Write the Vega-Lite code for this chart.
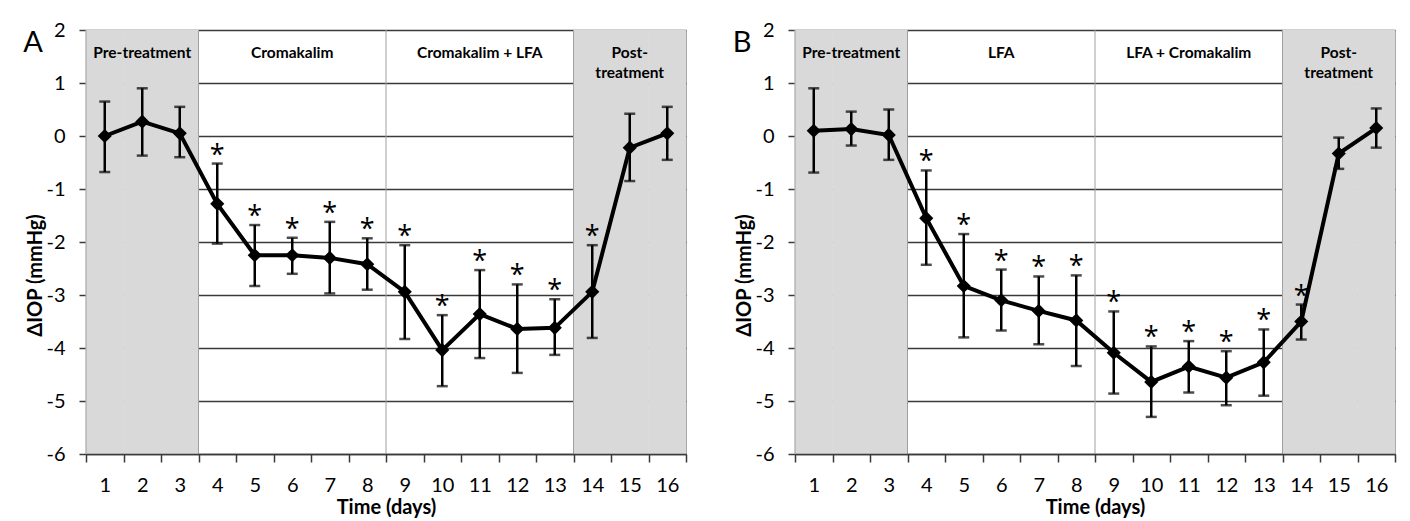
{
  "$schema": "https://vega.github.io/schema/vega-lite/v6.json",
  "padding": {"top": 19, "left": 22, "right": 5, "bottom": 5},
  "config": {
    "font": "Lato",
    "view": {"stroke": "#999999", "strokeWidth": 1},
    "axisY": {
      "grid": true, "gridColor": "#3a3a3a", "gridWidth": 1.5, "gridOpacity": 1,
      "domainColor": "#999999", "tickColor": "#3a3a3a", "tickWidth": 1.5, "tickSize": 7,
      "tickCount": 8, "labelFontSize": 20, "labelPadding": 14, "labelColor": "#000000",
      "labelExpr": "replace(datum.label, '\u2212', '-')",
      "titleFontSize": 20, "titleFontWeight": "bold", "titleColor": "#000000", "titlePadding": 0,
      "titleY": 245, "zindex": 1
    },
    "axisX": {
      "grid": false, "tickBand": "extent", "labelAngle": 0,
      "domainColor": "#3a3a3a", "domainWidth": 1.5, "tickColor": "#3a3a3a", "tickWidth": 1.5, "tickSize": 8,
      "labelFontSize": 20, "labelPadding": 13, "labelColor": "#000000",
      "titleFontSize": 20, "titleFontWeight": "bold", "titleColor": "#000000", "titlePadding": 2
    }
  },
  "datasets": {
    "a": [
      {"day": 1, "mean": 0.0, "lower": -0.68, "upper": 0.65, "sig": false, "phase": "pre"},
      {"day": 2, "mean": 0.27, "lower": -0.37, "upper": 0.9, "sig": false, "phase": "pre"},
      {"day": 3, "mean": 0.05, "lower": -0.4, "upper": 0.55, "sig": false, "phase": "pre"},
      {"day": 4, "mean": -1.28, "lower": -2.03, "upper": -0.52, "sig": true, "phase": "treat"},
      {"day": 5, "mean": -2.25, "lower": -2.83, "upper": -1.68, "sig": true, "phase": "treat"},
      {"day": 6, "mean": -2.25, "lower": -2.6, "upper": -1.92, "sig": true, "phase": "treat"},
      {"day": 7, "mean": -2.3, "lower": -2.97, "upper": -1.62, "sig": true, "phase": "treat"},
      {"day": 8, "mean": -2.42, "lower": -2.9, "upper": -1.93, "sig": true, "phase": "treat"},
      {"day": 9, "mean": -2.94, "lower": -3.83, "upper": -2.06, "sig": true, "phase": "treat"},
      {"day": 10, "mean": -4.04, "lower": -4.72, "upper": -3.38, "sig": true, "phase": "treat"},
      {"day": 11, "mean": -3.36, "lower": -4.19, "upper": -2.53, "sig": true, "phase": "treat"},
      {"day": 12, "mean": -3.64, "lower": -4.47, "upper": -2.8, "sig": true, "phase": "treat"},
      {"day": 13, "mean": -3.62, "lower": -4.13, "upper": -3.08, "sig": true, "phase": "treat"},
      {"day": 14, "mean": -2.94, "lower": -3.81, "upper": -2.06, "sig": true, "phase": "post"},
      {"day": 15, "mean": -0.22, "lower": -0.85, "upper": 0.42, "sig": false, "phase": "post"},
      {"day": 16, "mean": 0.05, "lower": -0.45, "upper": 0.55, "sig": false, "phase": "post"}
    ],
    "b": [
      {"day": 1, "mean": 0.1, "lower": -0.69, "upper": 0.9, "sig": false, "phase": "pre"},
      {"day": 2, "mean": 0.13, "lower": -0.18, "upper": 0.46, "sig": false, "phase": "pre"},
      {"day": 3, "mean": 0.02, "lower": -0.45, "upper": 0.5, "sig": false, "phase": "pre"},
      {"day": 4, "mean": -1.55, "lower": -2.43, "upper": -0.65, "sig": true, "phase": "treat"},
      {"day": 5, "mean": -2.83, "lower": -3.8, "upper": -1.85, "sig": true, "phase": "treat"},
      {"day": 6, "mean": -3.1, "lower": -3.67, "upper": -2.52, "sig": true, "phase": "treat"},
      {"day": 7, "mean": -3.3, "lower": -3.93, "upper": -2.65, "sig": true, "phase": "treat"},
      {"day": 8, "mean": -3.48, "lower": -4.34, "upper": -2.63, "sig": true, "phase": "treat"},
      {"day": 9, "mean": -4.09, "lower": -4.86, "upper": -3.31, "sig": true, "phase": "treat"},
      {"day": 10, "mean": -4.64, "lower": -5.3, "upper": -3.97, "sig": true, "phase": "treat"},
      {"day": 11, "mean": -4.35, "lower": -4.84, "upper": -3.87, "sig": true, "phase": "treat"},
      {"day": 12, "mean": -4.56, "lower": -5.08, "upper": -4.06, "sig": true, "phase": "treat"},
      {"day": 13, "mean": -4.27, "lower": -4.9, "upper": -3.65, "sig": true, "phase": "treat"},
      {"day": 14, "mean": -3.5, "lower": -3.84, "upper": -3.18, "sig": true, "phase": "post"},
      {"day": 15, "mean": -0.33, "lower": -0.62, "upper": -0.03, "sig": false, "phase": "post"},
      {"day": 16, "mean": 0.15, "lower": -0.22, "upper": 0.52, "sig": false, "phase": "post"}
    ],
    "phasesA": [
      {"label": "Pre-treatment", "start": 1, "mid": 2},
      {"label": "Cromakalim", "start": 4, "mid": 6},
      {"label": "Cromakalim + LFA", "start": 9, "mid": 11},
      {"label": "Post-\ntreatment", "start": 14, "mid": 15}
    ],
    "phasesB": [
      {"label": "Pre-treatment", "start": 1, "mid": 2},
      {"label": "LFA", "start": 4, "mid": 6},
      {"label": "LFA + Cromakalim", "start": 9, "mid": 11},
      {"label": "Post-\ntreatment", "start": 14, "mid": 15}
    ],
    "panels": [
      {"panel": "A"}
    ],
    "panelsB": [
      {"panel": "B"}
    ]
  },
  "spacing": 44,
  "hconcat": [
    {
      "width": 600,
      "height": 424,
      "layer": [
        {
          "data": {"name": "a"},
          "transform": [{"filter": "datum.phase != 'treat'"}],
          "mark": {"type": "rect", "fill": "#d9d9d9", "stroke": "#d9d9d9", "strokeWidth": 0.5},
          "encoding": {
            "x": {"field": "day", "type": "ordinal", "scale": {"type": "band", "domain": [1,2,3,4,5,6,7,8,9,10,11,12,13,14,15,16], "paddingInner": 0, "paddingOuter": 0}, "title": "Time (days)"},
            "y": {"datum": 2, "type": "quantitative", "scale": {"domain": [-6, 2], "nice": false, "zero": false}, "title": "ΔIOP (mmHg)"},
            "y2": {"datum": -6}
          }
        },
        {
          "data": {"name": "phasesA"},
          "mark": {"type": "rule", "color": "#a0a0a0", "strokeWidth": 1},
          "encoding": {
            "x": {"field": "start", "type": "ordinal", "bandPosition": 0, "title": "Time (days)"},
            "y": {"datum": 2, "type": "quantitative", "title": "ΔIOP (mmHg)"},
            "y2": {"datum": -6}
          }
        },
        {
          "data": {"name": "a"},
          "mark": {"type": "rule", "color": "#000000", "strokeWidth": 2.5},
          "encoding": {
            "x": {"field": "day", "type": "ordinal", "bandPosition": 0.5, "title": "Time (days)"},
            "y": {"field": "lower", "type": "quantitative", "title": "ΔIOP (mmHg)"},
            "y2": {"field": "upper"}
          }
        },
        {
          "data": {"name": "a"},
          "mark": {"type": "tick", "color": "#000000", "size": 11, "thickness": 2.5},
          "encoding": {
            "x": {"field": "day", "type": "ordinal", "bandPosition": 0.5, "title": "Time (days)"},
            "y": {"field": "lower", "type": "quantitative", "title": "ΔIOP (mmHg)"}
          }
        },
        {
          "data": {"name": "a"},
          "mark": {"type": "tick", "color": "#000000", "size": 11, "thickness": 2.5},
          "encoding": {
            "x": {"field": "day", "type": "ordinal", "bandPosition": 0.5, "title": "Time (days)"},
            "y": {"field": "upper", "type": "quantitative", "title": "ΔIOP (mmHg)"}
          }
        },
        {
          "data": {"name": "a"},
          "mark": {"type": "line", "color": "#000000", "strokeWidth": 4},
          "encoding": {
            "x": {"field": "day", "type": "ordinal", "bandPosition": 0.5, "title": "Time (days)"},
            "y": {"field": "mean", "type": "quantitative", "title": "ΔIOP (mmHg)"}
          }
        },
        {
          "data": {"name": "a"},
          "mark": {"type": "point", "shape": "diamond", "filled": true, "color": "#000000", "size": 200, "opacity": 1},
          "encoding": {
            "x": {"field": "day", "type": "ordinal", "bandPosition": 0.5, "title": "Time (days)"},
            "y": {"field": "mean", "type": "quantitative", "title": "ΔIOP (mmHg)"}
          }
        },
        {
          "data": {"name": "a"},
          "transform": [{"filter": "datum.sig"}],
          "mark": {"type": "text", "text": "*", "font": "Open Sans", "fontSize": 27, "baseline": "alphabetic", "dy": 0, "color": "#000000"},
          "encoding": {
            "x": {"field": "day", "type": "ordinal", "bandPosition": 0.5, "title": "Time (days)"},
            "y": {"field": "upper", "type": "quantitative", "title": "ΔIOP (mmHg)"}
          }
        },
        {
          "data": {"name": "phasesA"},
          "mark": {"type": "text", "fontSize": 15.5, "fontWeight": "bold", "baseline": "middle", "lineBreak": "\n", "lineHeight": 20, "dy": 1, "color": "#000000"},
          "encoding": {
            "x": {"field": "mid", "type": "ordinal", "bandPosition": 0.5, "title": "Time (days)"},
            "y": {"datum": 1.58, "type": "quantitative", "title": "ΔIOP (mmHg)"},
            "text": {"field": "label"}
          }
        },
        {
          "data": {"name": "panels"},
          "mark": {"type": "text", "fontSize": 29, "baseline": "alphabetic", "dx": -53, "dy": 22, "color": "#000000"},
          "encoding": {
            "x": {"datum": 1, "type": "ordinal", "bandPosition": 0, "title": "Time (days)"},
            "y": {"datum": 2, "type": "quantitative", "title": "ΔIOP (mmHg)"},
            "text": {"field": "panel"}
          }
        }
      ]
    },
    {
      "width": 600,
      "height": 424,
      "layer": [
        {
          "data": {"name": "b"},
          "transform": [{"filter": "datum.phase != 'treat'"}],
          "mark": {"type": "rect", "fill": "#d9d9d9", "stroke": "#d9d9d9", "strokeWidth": 0.5},
          "encoding": {
            "x": {"field": "day", "type": "ordinal", "scale": {"type": "band", "domain": [1,2,3,4,5,6,7,8,9,10,11,12,13,14,15,16], "paddingInner": 0, "paddingOuter": 0}, "title": "Time (days)"},
            "y": {"datum": 2, "type": "quantitative", "scale": {"domain": [-6, 2], "nice": false, "zero": false}, "title": "ΔIOP (mmHg)"},
            "y2": {"datum": -6}
          }
        },
        {
          "data": {"name": "phasesB"},
          "mark": {"type": "rule", "color": "#a0a0a0", "strokeWidth": 1},
          "encoding": {
            "x": {"field": "start", "type": "ordinal", "bandPosition": 0, "title": "Time (days)"},
            "y": {"datum": 2, "type": "quantitative", "title": "ΔIOP (mmHg)"},
            "y2": {"datum": -6}
          }
        },
        {
          "data": {"name": "b"},
          "mark": {"type": "rule", "color": "#000000", "strokeWidth": 2.5},
          "encoding": {
            "x": {"field": "day", "type": "ordinal", "bandPosition": 0.5, "title": "Time (days)"},
            "y": {"field": "lower", "type": "quantitative", "title": "ΔIOP (mmHg)"},
            "y2": {"field": "upper"}
          }
        },
        {
          "data": {"name": "b"},
          "mark": {"type": "tick", "color": "#000000", "size": 11, "thickness": 2.5},
          "encoding": {
            "x": {"field": "day", "type": "ordinal", "bandPosition": 0.5, "title": "Time (days)"},
            "y": {"field": "lower", "type": "quantitative", "title": "ΔIOP (mmHg)"}
          }
        },
        {
          "data": {"name": "b"},
          "mark": {"type": "tick", "color": "#000000", "size": 11, "thickness": 2.5},
          "encoding": {
            "x": {"field": "day", "type": "ordinal", "bandPosition": 0.5, "title": "Time (days)"},
            "y": {"field": "upper", "type": "quantitative", "title": "ΔIOP (mmHg)"}
          }
        },
        {
          "data": {"name": "b"},
          "mark": {"type": "line", "color": "#000000", "strokeWidth": 4},
          "encoding": {
            "x": {"field": "day", "type": "ordinal", "bandPosition": 0.5, "title": "Time (days)"},
            "y": {"field": "mean", "type": "quantitative", "title": "ΔIOP (mmHg)"}
          }
        },
        {
          "data": {"name": "b"},
          "mark": {"type": "point", "shape": "diamond", "filled": true, "color": "#000000", "size": 200, "opacity": 1},
          "encoding": {
            "x": {"field": "day", "type": "ordinal", "bandPosition": 0.5, "title": "Time (days)"},
            "y": {"field": "mean", "type": "quantitative", "title": "ΔIOP (mmHg)"}
          }
        },
        {
          "data": {"name": "b"},
          "transform": [{"filter": "datum.sig"}],
          "mark": {"type": "text", "text": "*", "font": "Open Sans", "fontSize": 27, "baseline": "alphabetic", "dy": 0, "color": "#000000"},
          "encoding": {
            "x": {"field": "day", "type": "ordinal", "bandPosition": 0.5, "title": "Time (days)"},
            "y": {"field": "upper", "type": "quantitative", "title": "ΔIOP (mmHg)"}
          }
        },
        {
          "data": {"name": "phasesB"},
          "mark": {"type": "text", "fontSize": 15.5, "fontWeight": "bold", "baseline": "middle", "lineBreak": "\n", "lineHeight": 20, "dy": 1, "color": "#000000"},
          "encoding": {
            "x": {"field": "mid", "type": "ordinal", "bandPosition": 0.5, "title": "Time (days)"},
            "y": {"datum": 1.58, "type": "quantitative", "title": "ΔIOP (mmHg)"},
            "text": {"field": "label"}
          }
        },
        {
          "data": {"name": "panelsB"},
          "mark": {"type": "text", "fontSize": 29, "baseline": "alphabetic", "dx": -53, "dy": 22, "color": "#000000"},
          "encoding": {
            "x": {"datum": 1, "type": "ordinal", "bandPosition": 0, "title": "Time (days)"},
            "y": {"datum": 2, "type": "quantitative", "title": "ΔIOP (mmHg)"},
            "text": {"field": "panel"}
          }
        }
      ]
    }
  ]
}
